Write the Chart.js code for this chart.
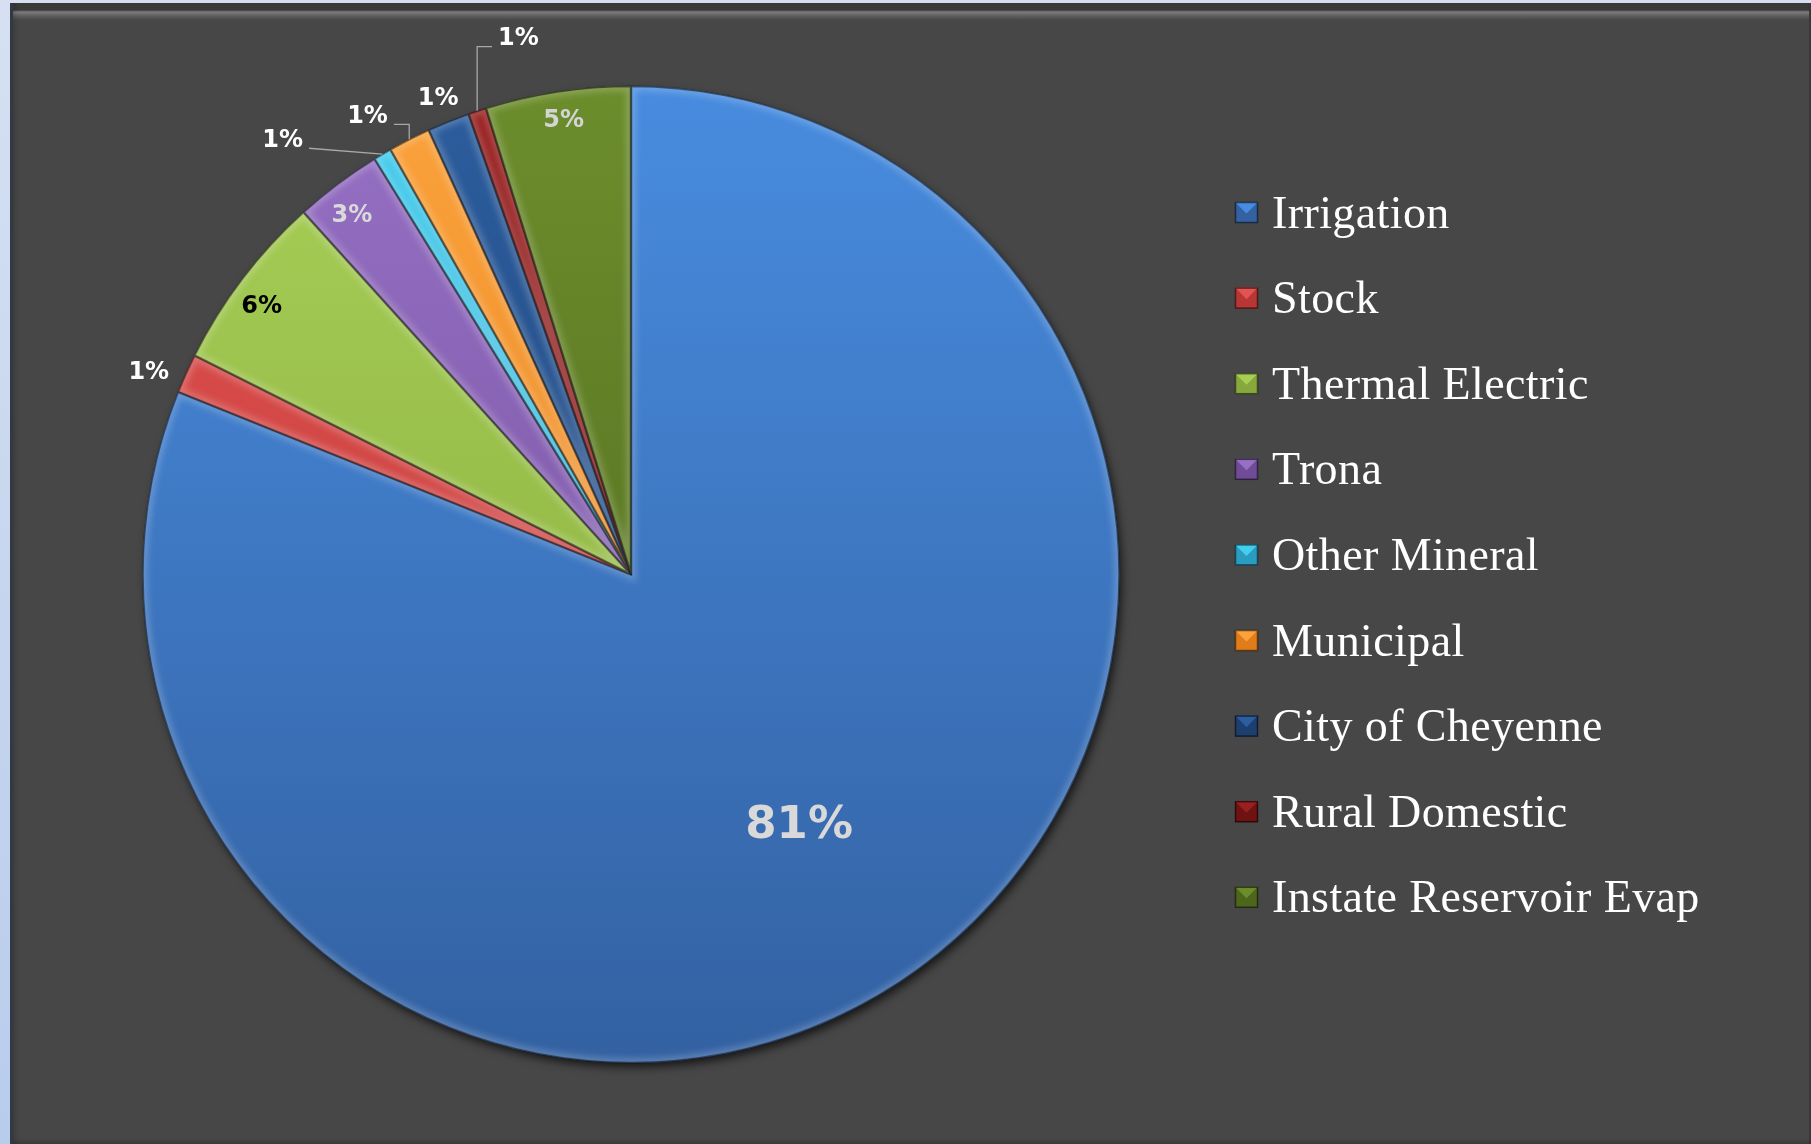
<!DOCTYPE html>
<html>
<head>
<meta charset="utf-8">
<title>Water use by category</title>
<script src="https://cdn.jsdelivr.net/npm/chart.js@4.4.1/dist/chart.umd.min.js"></script>
<style>
  html, body { margin: 0; padding: 0; width: 1811px; height: 1144px; overflow: hidden; }
  body { position: relative; background: linear-gradient(#d6e0f2, #b8ccec); }
  /* dark slide panel with a bevelled top edge */
  #panel {
    position: absolute; left: 10px; top: 3px; right: 0; bottom: -4px;
    background: linear-gradient(#3b3b3b 0, #3b3b3b 7px, #7c7c7c 9px, #5e5e5e 13px, #474747 17px, #474747 100%);
    box-shadow: inset 3px 0 0 #323944, inset 8px 0 6px -4px rgba(0,0,0,0.25), inset 0 -8px 6px -4px rgba(0,0,0,0.35), inset -2px 0 0 #3a3a3a;
  }
  #wrap { position: absolute; left: 0; top: 0; width: 1811px; height: 1144px; }
</style>
</head>
<body>
<div id="panel"></div>
<div id="wrap"><canvas id="useChart" width="1811" height="1144"></canvas></div>
<script>
// Water use shares (percent of total)
const categories = ['Irrigation', 'Stock', 'Thermal Electric', 'Trona', 'Other Mineral',
                    'Municipal', 'City of Cheyenne', 'Rural Domestic', 'Instate Reservoir Evap'];
const shares = [81.1, 1.3, 5.9, 2.9, 0.6, 1.4, 1.4, 0.6, 4.8];

// slice fill, light (top of pie) to dark (bottom of pie)
const topColors    = ['#488cdf', '#e25352', '#a7cf56', '#9670c4', '#45cdee', '#fba23c', '#2c5d9e', '#9a2020', '#6c8d2c'];
const bottomColors = ['#3361a2', '#b83634', '#86a83c', '#704c98', '#2a9cc0', '#e07c1a', '#1d3f6e', '#6e1212', '#4d661c'];

// where each percentage label sits: fraction of the radius, angle nudge (deg), text colour, leader style
const labelSpots = [
    { r: 0.62,  da: 0.3,  color: '#d9d9d9', big: true },
    { r: 1.07,  da: -1.6, color: '#ffffff' },
    { r: 0.934, da: -1.3, color: '#000000' },
    { r: 0.93,  da: -1.0, color: '#d9d9d9' },
    { r: 1.138, da: -8.2, color: '#ffffff', leader: 'straight' },
    { r: 1.082, da: -2.9, color: '#ffffff', leader: 'elbowRight' },
    { r: 1.051, da: -0.1, color: '#ffffff' },
    { r: 1.121, da: 6.5,  color: '#ffffff', leader: 'elbowLeft' },
    { r: 0.939, da: 0.2,  color: '#d4d4d4' }
];

const total = shares.reduce((a, b) => a + b, 0);

function sliceFill(ctx) {
    const i = ctx.dataIndex;
    const area = ctx.chart.chartArea;
    if (!area) return topColors[i];
    const g = ctx.chart.ctx.createLinearGradient(0, area.top, 0, area.bottom);
    g.addColorStop(0, topColors[i]);
    g.addColorStop(1, bottomColors[i]);
    return g;
}

// soft shadow under the whole pie
const pieShadow = {
    id: 'pieShadow',
    beforeDatasetsDraw(chart) {
        const arc = chart.getDatasetMeta(0).data[0];
        if (!arc) return;
        const { x, y, outerRadius } = arc.getProps(['x', 'y', 'outerRadius'], true);
        const ctx = chart.ctx;
        ctx.save();
        ctx.shadowColor = 'rgba(0,0,0,0.7)';
        ctx.shadowBlur = 10;
        ctx.shadowOffsetX = 3;
        ctx.shadowOffsetY = 5;
        ctx.fillStyle = '#2a2a2a';
        ctx.beginPath();
        ctx.arc(x, y, outerRadius - 1, 0, Math.PI * 2);
        ctx.fill();
        ctx.restore();
    }
};

// bevel look: lighter band inside each slice edge plus a dark outline
const sliceBevel = {
    id: 'sliceBevel',
    afterDatasetsDraw(chart) {
        const ctx = chart.ctx;
        chart.getDatasetMeta(0).data.forEach(arc => {
            const { x, y, startAngle, endAngle, outerRadius } =
                arc.getProps(['x', 'y', 'startAngle', 'endAngle', 'outerRadius'], true);
            ctx.save();
            ctx.beginPath();
            ctx.moveTo(x, y);
            ctx.arc(x, y, outerRadius, startAngle, endAngle);
            ctx.closePath();
            ctx.clip();
            ctx.filter = 'blur(3px)';
            ctx.lineWidth = 10;
            ctx.strokeStyle = 'rgba(255,255,255,0.2)';
            ctx.stroke();
            ctx.filter = 'none';
            ctx.lineWidth = 2.5;
            ctx.strokeStyle = 'rgba(0,0,0,0.45)';
            ctx.stroke();
            ctx.restore();
        });
    }
};

// percentage labels with leader lines for the crowded small slices
const sliceLabels = {
    id: 'sliceLabels',
    afterDraw(chart) {
        const ctx = chart.ctx;
        const values = chart.data.datasets[0].data;
        chart.getDatasetMeta(0).data.forEach((arc, i) => {
            const spot = labelSpots[i];
            const { x, y, startAngle, endAngle, outerRadius } =
                arc.getProps(['x', 'y', 'startAngle', 'endAngle', 'outerRadius'], true);
            const mid = (startAngle + endAngle) / 2;
            const a = mid + spot.da * Math.PI / 180;
            const lx = x + Math.cos(a) * outerRadius * spot.r;
            const ly = y + Math.sin(a) * outerRadius * spot.r;
            const text = Math.round(values[i] / total * 100) + '%';

            ctx.save();
            ctx.font = (spot.big ? 'bold 45px' : 'bold 24px') + ' "DejaVu Sans", Verdana, sans-serif';
            ctx.textAlign = 'center';
            ctx.textBaseline = 'middle';
            ctx.fillStyle = spot.color;
            ctx.fillText(text, lx, ly);

            if (spot.leader) {
                const half = ctx.measureText(text).width / 2;
                const ex = x + Math.cos(mid) * outerRadius;
                const ey = y + Math.sin(mid) * outerRadius;
                ctx.strokeStyle = '#a8a8a8';
                ctx.lineWidth = 1.3;
                ctx.beginPath();
                if (spot.leader === 'straight') {
                    ctx.moveTo(lx + half + 6, ly + 7);
                    ctx.lineTo(ex, ey);
                } else if (spot.leader === 'elbowRight') {
                    ctx.moveTo(lx + half + 6, ly + 8);
                    ctx.lineTo(ex, ly + 8);
                    ctx.lineTo(ex, ey);
                } else {
                    ctx.moveTo(lx - half - 6, ly + 8);
                    ctx.lineTo(ex, ly + 8);
                    ctx.lineTo(ex, ey);
                }
                ctx.stroke();
            }
            ctx.restore();
        });
    }
};

// legend column on the right
const sideLegend = {
    id: 'sideLegend',
    afterDraw(chart, args, opts) {
        const ctx = chart.ctx;
        chart.data.labels.forEach((label, i) => {
            const cy = opts.top + i * opts.step;
            const bx = opts.left, by = cy - opts.box / 2, bw = opts.box + 2, bh = opts.box;
            ctx.save();
            ctx.fillStyle = bottomColors[i];
            ctx.fillRect(bx, by, bw, bh);
            // lighter upper wedge of the bevelled swatch
            ctx.fillStyle = topColors[i];
            ctx.beginPath();
            ctx.moveTo(bx, by);
            ctx.lineTo(bx + bw, by);
            ctx.lineTo(bx + bw - 4, by + 4);
            ctx.lineTo(bx + bw / 2, by + bh * 0.55);
            ctx.lineTo(bx + 4, by + 4);
            ctx.closePath();
            ctx.fill();
            ctx.strokeStyle = 'rgba(0,0,0,0.55)';
            ctx.lineWidth = 1.5;
            ctx.strokeRect(bx + 0.5, by + 0.5, bw - 1, bh - 1);

            ctx.fillStyle = '#ffffff';
            ctx.font = '46px "Liberation Serif", "Times New Roman", serif';
            ctx.letterSpacing = '0.4px';
            ctx.textAlign = 'left';
            ctx.textBaseline = 'alphabetic';
            ctx.fillText(label, opts.textLeft, cy + 15);
            ctx.restore();
        });
    }
};

new Chart(document.getElementById('useChart'), {
    type: 'pie',
    data: {
        labels: categories,
        datasets: [{
            data: shares,
            backgroundColor: sliceFill,
            borderColor: 'rgba(0,0,0,0.35)',
            borderWidth: 1
        }]
    },
    options: {
        responsive: false,
        animation: false,
        events: [],
        layout: { padding: { left: 142, top: 85, right: 691, bottom: 80 } },
        plugins: {
            legend: { display: false },
            tooltip: { enabled: false },
            sideLegend: { left: 1235, textLeft: 1272, top: 212.5, step: 85.6, box: 21 }
        }
    },
    plugins: [pieShadow, sliceBevel, sliceLabels, sideLegend]
});
</script>
</body>
</html>
